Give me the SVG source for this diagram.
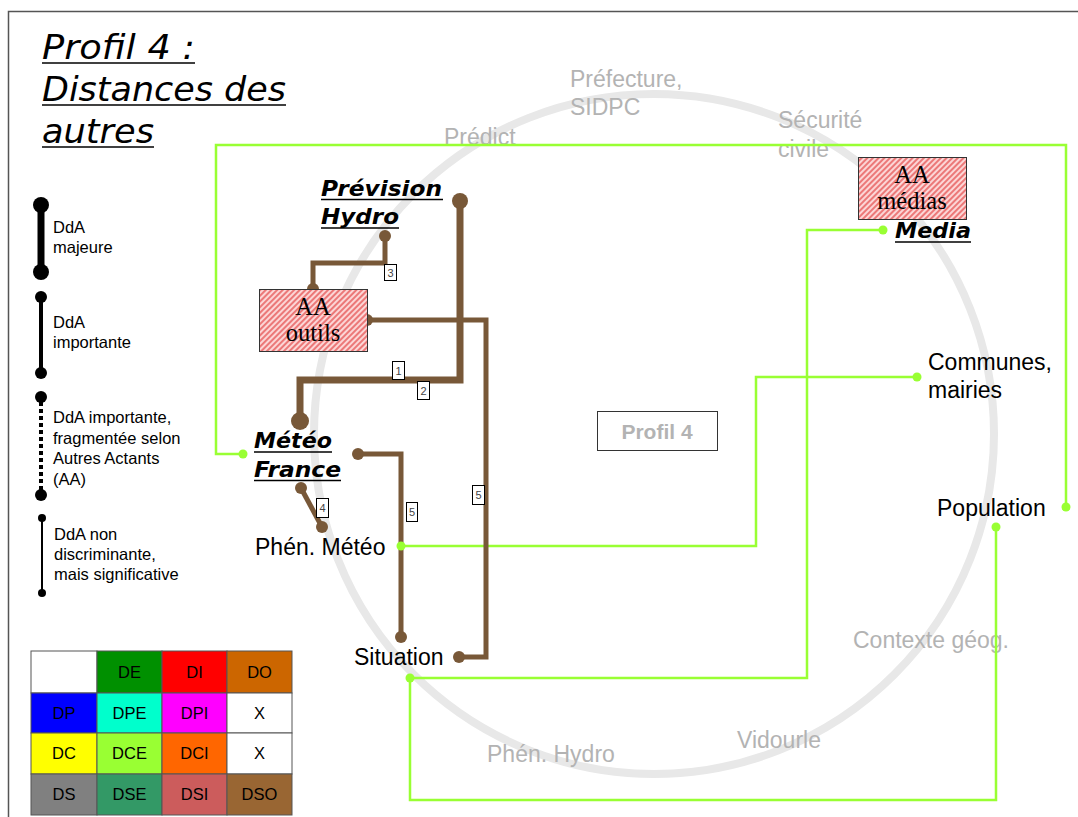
<svg xmlns="http://www.w3.org/2000/svg" width="1078" height="817" viewBox="0 0 1078 817">
<defs>
<pattern id="hatch" width="4" height="4" patternUnits="userSpaceOnUse" patternTransform="rotate(45)">
<rect width="4" height="4" fill="#fcd6d6"/>
<line x1="1" y1="0" x2="1" y2="4" stroke="#e55050" stroke-width="1.4"/>
</pattern>
<style>
.gray{font-family:"Liberation Sans",Arial,sans-serif;font-size:23px;fill:#b3b3b3;}
.lbl{font-family:"Liberation Sans",Arial,sans-serif;font-size:23px;fill:#000;}
.node{font-family:"DejaVu Sans",Verdana,sans-serif;font-size:22px;font-weight:bold;font-style:italic;fill:#000;}
.ul{stroke:#000;stroke-width:1.6;}
.title{font-family:"DejaVu Sans",Verdana,sans-serif;font-size:34px;font-style:italic;fill:#000;}
.aa{font-family:"Liberation Serif","Times New Roman",serif;font-size:24.5px;fill:#000;text-anchor:middle;}
.box{fill:url(#hatch);stroke:#333;stroke-width:1;}
.br{fill:none;stroke:#785838;stroke-linejoin:miter;}
.brd{fill:#785838;}
.gr{fill:none;stroke:#99ff33;stroke-width:2.5;}
.grd{fill:#99ff33;}
.num rect{fill:#fff;stroke:#000;stroke-width:1;}
.num text{font-family:"Liberation Sans",Arial,sans-serif;font-size:11px;fill:#444;text-anchor:middle;}
.leg{font-family:"Liberation Sans",Arial,sans-serif;font-size:16.5px;fill:#000;}
.cell{stroke:#555;stroke-width:1;}
.ct{font-family:"Liberation Sans",Arial,sans-serif;font-size:16.5px;fill:#000;text-anchor:middle;}
</style>
</defs>

<rect x="0" y="0" width="1078" height="817" fill="#fff"/>
<path d="M8.5,817 V11.5 H1078" fill="none" stroke="#555" stroke-width="1.5"/>

<g id="title">
<text class="title" x="42" y="59" textLength="153" lengthAdjust="spacingAndGlyphs">Profil 4 :</text>
<line class="ul" x1="42" y1="63" x2="195" y2="63"/>
<text class="title" x="42" y="101" textLength="244" lengthAdjust="spacingAndGlyphs">Distances des</text>
<line class="ul" x1="42" y1="105" x2="286" y2="105"/>
<text class="title" x="42" y="143" textLength="112" lengthAdjust="spacingAndGlyphs">autres</text>
<line class="ul" x1="42" y1="147" x2="154" y2="147"/>
</g>

<circle cx="654" cy="434" r="340" fill="none" stroke="#e8e8e8" stroke-width="8"/>

<g id="gray-labels">
<text class="gray" x="570" y="87">Préfecture,</text>
<text class="gray" x="570" y="115">SIDPC</text>
<text class="gray" x="444" y="145">Prédict</text>
<text class="gray" x="778" y="128">Sécurité</text>
<text class="gray" x="778" y="157">civile</text>
<text class="gray" x="853" y="648">Contexte géog.</text>
<text class="gray" x="737" y="748">Vidourle</text>
<text class="gray" x="487" y="762">Phén. Hydro</text>
</g>

<g id="connectors">
<polyline class="gr" points="243,454 216,454 216,145 1066,145 1066,507"/>
<circle class="grd" cx="243" cy="454" r="4.5"/>
<circle class="grd" cx="1066" cy="507" r="4.5"/>
<polyline class="gr" points="883,230 807,230 807,678 410,678"/>
<circle class="grd" cx="883" cy="230" r="4.5"/>
<polyline class="gr" points="410,678 410,800 996,800 996,527"/>
<circle class="grd" cx="410" cy="678" r="4.5"/>
<circle class="grd" cx="996" cy="527" r="4.5"/>
<polyline class="gr" points="401,546 756,546 756,377 917,377"/>
<circle class="grd" cx="917" cy="377" r="4.5"/>

<polyline class="br" stroke-width="7" points="460,201 460,380 300,380 300,420"/>
<circle class="brd" cx="460" cy="201" r="8"/>
<circle class="brd" cx="300" cy="421" r="9"/>
<polyline class="br" stroke-width="5" points="385,236 385,263 313,263 313,289"/>
<circle class="brd" cx="385" cy="236" r="6"/>
<circle class="brd" cx="313" cy="289" r="6"/>
<polyline class="br" stroke-width="5" points="367,320 486,320 486,657 459,657"/>
<circle class="brd" cx="367" cy="320" r="6"/>
<circle class="brd" cx="459" cy="657" r="6"/>
<polyline class="br" stroke-width="5" points="358,454 401,454 401,637"/>
<circle class="brd" cx="358" cy="454" r="6"/>
<circle class="brd" cx="401" cy="637" r="6"/>
<line class="br" stroke-width="5" x1="301" y1="488" x2="322" y2="527"/>
<circle class="brd" cx="301" cy="488" r="6"/>
<circle class="brd" cx="322" cy="527" r="6"/>
<circle class="grd" cx="401" cy="546" r="4.5"/>

<g class="num">
<rect x="392.5" y="361.5" width="12" height="18"/><text x="398.5" y="375">1</text>
<rect x="417.5" y="381.5" width="12" height="18"/><text x="423.5" y="395">2</text>
<rect x="384.5" y="264.5" width="12" height="16"/><text x="390.5" y="277">3</text>
<rect x="316.5" y="498.5" width="12" height="19"/><text x="322.5" y="512">4</text>
<rect x="406.5" y="502.5" width="11" height="19"/><text x="412" y="516">5</text>
<rect x="472.5" y="485.5" width="12" height="19"/><text x="478.5" y="499">5</text>
</g>
</g>

<g id="prevision-hydro">
<text class="node" x="321" y="196" textLength="121" lengthAdjust="spacingAndGlyphs">Prévision</text>
<line class="ul" x1="321" y1="199.5" x2="443" y2="199.5"/>
<text class="node" x="321" y="224" textLength="78" lengthAdjust="spacingAndGlyphs">Hydro</text>
<line class="ul" x1="321" y1="228" x2="399" y2="228"/>
</g>
<g id="aa-outils">
<rect class="box" x="259.5" y="289.5" width="108" height="62"/>
<text class="aa" x="313" y="315">AA</text>
<text class="aa" x="313" y="341">outils</text>
</g>
<g id="meteo-france">
<text class="node" x="254" y="448" textLength="78" lengthAdjust="spacingAndGlyphs">Météo</text>
<line class="ul" x1="254" y1="452" x2="332" y2="452"/>
<text class="node" x="254" y="477" textLength="87" lengthAdjust="spacingAndGlyphs">France</text>
<line class="ul" x1="254" y1="480.5" x2="341" y2="480.5"/>
</g>
<g id="phen-meteo"><text class="lbl" x="255" y="555">Phén. Météo</text></g>
<g id="situation"><text class="lbl" x="354" y="665">Situation</text></g>
<g id="aa-medias">
<rect class="box" x="858.5" y="157.5" width="108" height="62"/>
<text class="aa" x="912" y="183">AA</text>
<text class="aa" x="912" y="209">médias</text>
</g>
<g id="media">
<text class="node" x="895" y="238" textLength="76" lengthAdjust="spacingAndGlyphs">Media</text>
<line class="ul" x1="895" y1="242" x2="971" y2="242"/>
</g>
<g id="communes">
<text class="lbl" x="928" y="370">Communes,</text>
<text class="lbl" x="928" y="398">mairies</text>
</g>
<g id="population"><text class="lbl" x="937" y="516">Population</text></g>
<g id="profil4">
<rect x="597.5" y="411.5" width="120" height="39" fill="#fff" stroke="#333" stroke-width="1"/>
<text x="657" y="439" font-family="Liberation Sans,Arial,sans-serif" font-size="21" font-weight="bold" fill="#b3b3b3" text-anchor="middle">Profil 4</text>
</g>

<g id="legend">
<line x1="41" y1="205" x2="41" y2="272" stroke="#000" stroke-width="7"/>
<circle cx="41" cy="205" r="8"/><circle cx="41" cy="272" r="8"/>
<text class="leg" x="53" y="233">DdA</text>
<text class="leg" x="53" y="253">majeure</text>
<line x1="41" y1="297" x2="41" y2="372" stroke="#000" stroke-width="4"/>
<circle cx="41" cy="297" r="6"/><circle cx="41" cy="373" r="6"/>
<text class="leg" x="53" y="328">DdA</text>
<text class="leg" x="53" y="348">importante</text>
<line x1="41" y1="402" x2="41" y2="492" stroke="#000" stroke-width="4" stroke-dasharray="4,3"/>
<circle cx="41" cy="397" r="6"/><circle cx="41" cy="495" r="6"/>
<text class="leg" x="53" y="423">DdA importante,</text>
<text class="leg" x="53" y="444">fragmentée selon</text>
<text class="leg" x="53" y="464">Autres Actants</text>
<text class="leg" x="53" y="485">(AA)</text>
<line x1="42" y1="518" x2="42" y2="593" stroke="#000" stroke-width="2"/>
<circle cx="42" cy="518" r="4"/><circle cx="42" cy="593" r="4"/>
<text class="leg" x="54" y="540">DdA non</text>
<text class="leg" x="54" y="560">discriminante,</text>
<text class="leg" x="54" y="580">mais significative</text>
</g>

<g id="table">
<rect class="cell" x="31" y="651" width="66" height="42" fill="#fff"/>
<rect class="cell" x="97" y="651" width="65" height="42" fill="#009000"/>
<rect class="cell" x="162" y="651" width="65" height="42" fill="#ff0000"/>
<rect class="cell" x="227" y="651" width="65" height="42" fill="#cc6600"/>
<rect class="cell" x="31" y="693" width="66" height="40" fill="#0000ff"/>
<rect class="cell" x="97" y="693" width="65" height="40" fill="#00ffcc"/>
<rect class="cell" x="162" y="693" width="65" height="40" fill="#ff00ff"/>
<rect class="cell" x="227" y="693" width="65" height="40" fill="#fff"/>
<rect class="cell" x="31" y="733" width="66" height="41" fill="#ffff00"/>
<rect class="cell" x="97" y="733" width="65" height="41" fill="#99ff33"/>
<rect class="cell" x="162" y="733" width="65" height="41" fill="#ff6600"/>
<rect class="cell" x="227" y="733" width="65" height="41" fill="#fff"/>
<rect class="cell" x="31" y="774" width="66" height="41" fill="#808080"/>
<rect class="cell" x="97" y="774" width="65" height="41" fill="#339966"/>
<rect class="cell" x="162" y="774" width="65" height="41" fill="#cc5c5c"/>
<rect class="cell" x="227" y="774" width="65" height="41" fill="#996633"/>
<text class="ct" x="129.5" y="678">DE</text>
<text class="ct" x="194.5" y="678">DI</text>
<text class="ct" x="259.5" y="678">DO</text>
<text class="ct" x="64" y="719">DP</text>
<text class="ct" x="129.5" y="719">DPE</text>
<text class="ct" x="194.5" y="719">DPI</text>
<text class="ct" x="259.5" y="719">X</text>
<text class="ct" x="64" y="759">DC</text>
<text class="ct" x="129.5" y="759">DCE</text>
<text class="ct" x="194.5" y="759">DCI</text>
<text class="ct" x="259.5" y="759">X</text>
<text class="ct" x="64" y="800">DS</text>
<text class="ct" x="129.5" y="800">DSE</text>
<text class="ct" x="194.5" y="800">DSI</text>
<text class="ct" x="259.5" y="800">DSO</text>
</g>
</svg>
